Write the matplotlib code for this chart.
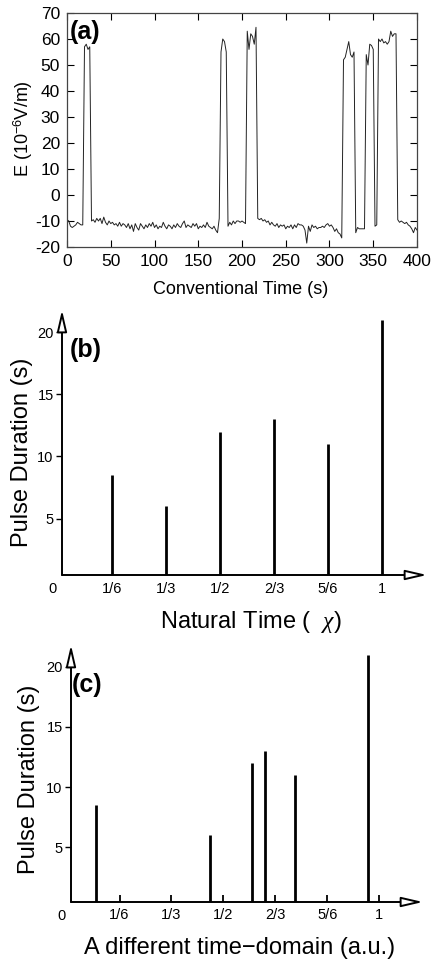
import numpy as np
import matplotlib
matplotlib.use('Agg')
import matplotlib.pyplot as plt

plt.rcParams['font.family'] = ['Liberation Sans', 'DejaVu Sans']
plt.rcParams['mathtext.fontset'] = 'custom'
plt.rcParams['mathtext.rm'] = 'Liberation Sans'
plt.rcParams['mathtext.it'] = 'Liberation Serif:italic'
plt.rcParams['mathtext.bf'] = 'Liberation Sans:bold'
plt.rcParams['axes.unicode_minus'] = False

# (a) electric field record, read every 2 s off the plot
t_sec = np.arange(0, 401, 2)
e_field = [
    -9.5, -10, -12, -12.5, -12, -11.5, -10.5, -11, -11.5, -11.5,
    57, 58, 56, 57, -10, -9.5, -10.5, -9, -10, -9,
    -11, -8.5, -10.5, -11.5, -10, -11, -10.5, -11.5, -11, -12,
    -10.5, -12, -11, -11.5, -12.5, -11, -13, -11.5, -14, -11,
    -12.5, -13.5, -11, -12, -13, -11.5, -12.5, -11, -12, -10.5,
    -12.5, -11.5, -13, -12, -12.5, -10.5, -12, -13, -11.5, -12,
    -13, -11.5, -12.5, -11, -12, -12.5, -11, -10, -12.5, -11.5,
    -12, -12.5, -11, -12, -11, -13, -12, -12.5, -11.5, -12.5,
    -10.5, -12, -12.5, -13, -12, -13.5, -14.5, -9, 55, 60,
    59, 55, -12, -10.5, -11.5, -10, -11, -10, -10, -10.5,
    -10, -10.5, -11, 63, 56, 62, 61, 58, 64.5, -9,
    -9.5, -9, -10, -9.5, -10.5, -10, -11.5, -10.5, -11.5, -12,
    -11, -12.5, -11.5, -12, -11.5, -13, -12, -12.5, -11.5, -13,
    -11.5, -12.5, -11, -11.5, -11.5, -12, -13.5, -18.5, -12, -14,
    -11.5, -12.5, -12, -13, -12.5, -12.5, -12, -12.5, -11.5, -11,
    -12, -11.5, -12.5, -14, -13, -14.5, -15, -16.5, 52, 53,
    56, 59, 54, 53, 55, -14.5, -12.5, -13, -13, -13,
    -13, 54, 50, 58, 57.5, 56, -12, -11.5, 60, 59,
    60, 58.5, 59, 58, 59, 63, 61, 62, 62, -9.5,
    -10.5, -10, -10.5, -11, -10.5, -11.5, -12, -13, -14.5, -12.5,
    -13.5,
]

# (b) pulse durations in natural time
chi = [1/6, 2/6, 3/6, 4/6, 5/6, 1]
durations = [8.5, 6, 12, 13, 11, 21]

# (c) the same pulses on another time axis
t_other = [0.09, 0.458, 0.593, 0.633, 0.729, 0.963]

frac_ticks = [1/6, 2/6, 3/6, 4/6, 5/6, 1]
frac_labels = ['1/6', '1/3', '1/2', '2/3', '5/6', '1']

W, H = 435, 961
fig = plt.figure(figsize=(W / 100, H / 100), dpi=100)


def box(l, t, r, b):
    return [l / W, 1 - b / H, (r - l) / W, (b - t) / H]


def ftext(x, y, s, **kw):
    fig.text(x / W, 1 - y / H, s, **kw)


# ---- (a)
ax1 = fig.add_axes(box(67, 13, 417, 247))
ax1.plot(t_sec, e_field, color='#222222', lw=0.7)
ax1.set_xlim(0, 400)
ax1.set_ylim(-20, 70)
ax1.set_xticks(range(0, 401, 50))
ax1.set_yticks(range(-20, 71, 10))
ax1.tick_params(direction='in', top=True, right=True, length=5, width=0.8,
                labelsize=12.5, pad=5)
for s in ax1.spines.values():
    s.set_linewidth(0.9)
    s.set_color('#444444')
ftext(70, 20, '(a)', fontsize=18, weight='bold', va='top')
ftext(241, 290, 'Conventional Time (s)', fontsize=13, ha='center', va='center')
ftext(23, 129, 'E (10$^{-6}$V/m)', fontsize=13, ha='center', va='center',
      rotation=90)


def stem_panel(rect, xs, ys, inner_ticks):
    ax = fig.add_axes(rect)
    ax.set_xlim(0.011, 1.14)
    ax.set_ylim(0.45, 21.8)
    for s in ax.spines.values():
        s.set_visible(False)
    ax.vlines(xs, 0.45, ys, color='black', lw=2)
    head = dict(arrowstyle='-|>,head_length=1.3,head_width=0.3',
                mutation_scale=10, fc='white', ec='black', lw=1.4,
                shrinkA=0, shrinkB=0)
    ax.annotate('', xy=(1, 0), xytext=(0, 0), xycoords='axes fraction',
                arrowprops=head, annotation_clip=False)
    ax.annotate('', xy=(0, 1), xytext=(0, 0), xycoords='axes fraction',
                arrowprops=head, annotation_clip=False)
    ax.set_yticks([5, 10, 15, 20])
    ax.tick_params(axis='y', direction='out', length=4, width=1,
                   labelsize=10.5, pad=2)
    ax.set_xticks(frac_ticks, frac_labels)
    if inner_ticks:
        ax.tick_params(axis='x', direction='in', length=5, width=1.3,
                       labelsize=10.5, pad=4)
    else:
        ax.tick_params(axis='x', length=0, labelsize=10.5, pad=5)
    ax.annotate('0', xy=(-0.018, 0), xycoords=ax.get_xaxis_transform(),
                xytext=(0, -10), textcoords='offset points', ha='center',
                va='center', fontsize=10.5, annotation_clip=False)
    return ax


# ---- (b)
ax2 = stem_panel(box(62, 310, 427, 575), chi, durations, False)
ftext(70, 338, '(b)', fontsize=18, weight='bold', va='top')
ftext(22, 452, 'Pulse Duration (s)', fontsize=17, ha='center', va='center',
      rotation=90)
ftext(251, 622, r'Natural Time (  $\chi$)', fontsize=17, ha='center',
      va='center')

# ---- (c)
ax3 = stem_panel(box(71, 645, 423, 902), t_other, durations, True)
ftext(72, 673, '(c)', fontsize=18, weight='bold', va='top')
ftext(29, 779, 'Pulse Duration (s)', fontsize=17, ha='center', va='center',
      rotation=90)
ftext(240, 948, 'A different time\u2212domain (a.u.)', fontsize=17,
      ha='center', va='center')

fig.savefig('out.png', dpi=100)
